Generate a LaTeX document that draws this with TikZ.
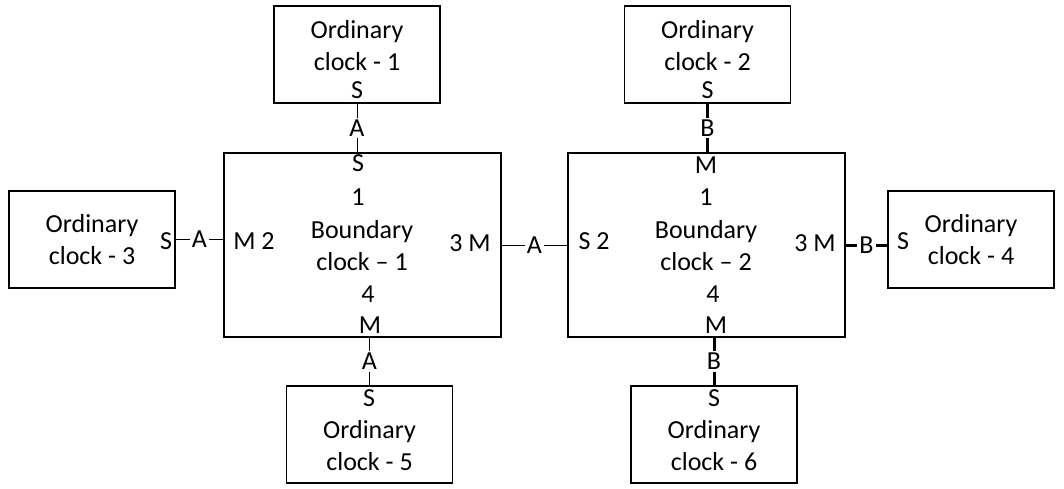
\documentclass[tikz,border=0pt]{standalone}
\usepackage{fontspec}
\setmainfont{Carlito}
\tikzstyle{clock}=[draw=black, line width=0.75pt, inner sep=0pt]
\tikzstyle{port}=[inner sep=0pt]
\tikzstyle{clocktext}=[inner sep=0pt, align=center]
\tikzstyle{link}=[line width=0.5pt]
\tikzstyle{boldlink}=[line width=1.5pt]
\tikzstyle{tag}=[fill=white, inner sep=1pt]

\begin{document}
\begin{tikzpicture}[x=0.5pt, y=-0.5pt, font=\fontsize{13}{16}\selectfont]
    \useasboundingbox (0,0) rectangle (1064,488);

    % ordinary clocks
    \foreach \n/\x/\y in {1/357/54.5, 2/707.5/54.5, 3/92/239.5, 4/971/239.5, 5/369.5/434.5, 6/714/434.5}{
        \node[clock, minimum width=83pt, minimum height=48.5pt] (oc\n) at (\x,\y) {};
        }
    % boundary clocks
    \node[clock, minimum width=138.5pt, minimum height=92pt] (bc1) at (362.5,245) {};
    \node[clock, minimum width=138.5pt, minimum height=92pt] (bc2) at (706.5,245) {};

    \foreach \n/\x/\y in {1/357/46, 2/707.5/46, 3/92/240, 4/971/240, 5/369.5/446, 6/714/446}{
        \node[clocktext] (oc\n text) at (\x,\y) {Ordinary\\clock - \n};
        }
    \foreach \n/\x/\y in {1/357/90, 2/707.5/90, 3/166/241, 4/903/241, 5/369/398, 6/714/398}{
        \node[port] (oc\n s) at (\x,\y) {S};
        }

    \node[clocktext] (bc1text) at (362,246) {Boundary\\clock -- 1};
    \node[port] (bc1p1) at (358,163) {S};
    \node[port] (bc1n1) at (358,197) {1};
    \node[port] (bc1n4) at (368,294) {4};
    \node[port] (bc1p4) at (370,325) {M};
    \node[port] (bc1p2) at (254,241) {M 2};
    \node[port] (bc1p3) at (470,243) {3 M};

    \node[clocktext] (bc2text) at (706,246) {Boundary\\clock -- 2};
    \node[port] (bc2p1) at (706,165) {M};
    \node[port] (bc2n1) at (706,197) {1};
    \node[port] (bc2n4) at (713,294) {4};
    \node[port] (bc2p4) at (716,325) {M};
    \node[port] (bc2p2) at (594,241) {S 2};
    \node[port] (bc2p3) at (815,243) {3 M};

    % links
    \draw[link] (oc1.south) -- node[tag] {A} (oc1.south |- bc1.north);
    \draw[link] (oc5.north |- bc1.south) -- node[tag] {A} (oc5.north);
    \draw[link] (oc3.east) -- node[tag] {A} (oc3.east -| bc1.west);
    \draw[link] (bc1.east) -- node[tag] {A} (bc2.west);
    \draw[boldlink] (oc2.south) -- node[tag] {B} (oc2.south |- bc2.north);
    \draw[boldlink] (oc6.north |- bc2.south) -- node[tag] {B} (oc6.north);
    \draw[boldlink] (bc2.east) -- node[tag] {B} (bc2.east -| oc4.west);

\end{tikzpicture}
\end{document}
